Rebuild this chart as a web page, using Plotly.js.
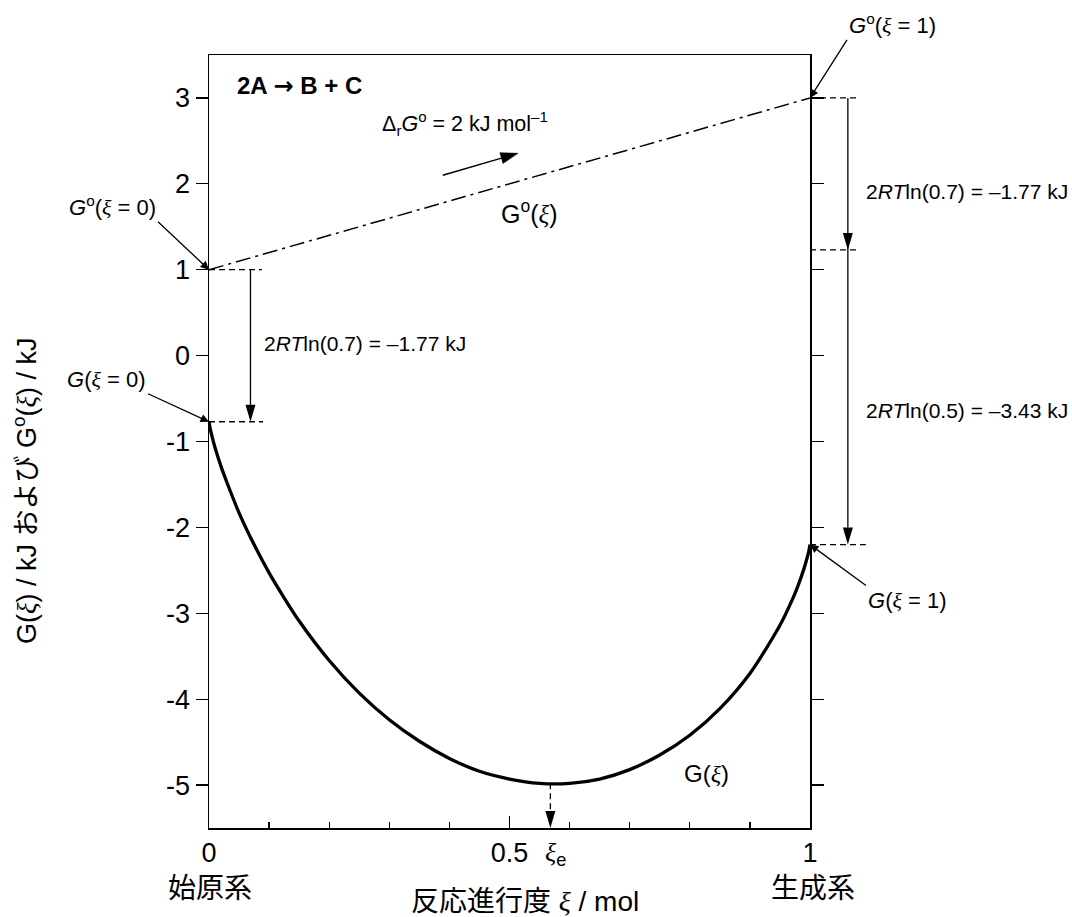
<!DOCTYPE html>
<html>
<head>
<meta charset="utf-8">
<script src="https://cdn.plot.ly/plotly-3.0.1.min.js"></script>
<style>
  html, body { margin: 0; padding: 0; background: #ffffff; }
  #chart { width: 1072px; height: 917px; }
</style>
</head>
<body>
<div id="chart"></div>
<script>
// Extent of reaction ξ / mol
const xi = [0, 0.002, 0.005, 0.01, 0.02, 0.03, 0.05, 0.075, 0.1, 0.125, 0.15, 0.2, 0.25,
            0.3, 0.35, 0.4, 0.45, 0.5, 0.55, 0.6, 0.65, 0.7, 0.75, 0.8, 0.85, 0.9, 0.95,
            0.97, 0.98, 0.99, 0.995, 0.998, 1];
// Gibbs energy of the mixture G(ξ) / kJ
const gibbs = [-0.77, -0.85, -0.94, -1.07, -1.29, -1.48, -1.83, -2.20, -2.53, -2.82, -3.09, -3.55, -3.93,
               -4.24, -4.49, -4.69, -4.84, -4.93, -4.98, -4.98, -4.93, -4.82, -4.65, -4.42, -4.11, -3.70, -3.14,
               -2.85, -2.68, -2.48, -2.36, -2.28, -2.2];
// Standard Gibbs energy G°(ξ), a straight line between the pure states
const xiStd = [0, 1];
const gibbsStd = [1, 3];
// 2RT ln x terms (kJ)
const mixStart = -1.77;   // 2RT ln(0.7)
const mixEnd = -3.43;     // 2RT ln(0.5)
// Equilibrium extent
const xiEq = 0.568;
const gibbsEq = -4.98;
// Δr G° arrow (tail → head)
const dgArrowX = [0.389, 0.514];
const dgArrowY = [2.10, 2.355];
// Tick labels
const yTicks = [-5, -4, -3, -2, -1, 0, 1, 2, 3];
const yTickText = ['-5', '-4', '-3', '-2', '-1', '0', '1', '2', '3'];
const xTicks = [0, 0.5, 1];
const xTickText = ['0', '0.5', '1'];

const W = 1072, H = 917;
const M = { l: 209, r: 262, t: 55, b: 89 };
const Y_RANGE = [-5.5, 3.5];
const FONT = 'Liberation Sans, Arial, sans-serif';
const CJK = 'Liberation Sans, Noto Sans CJK JP, sans-serif';
const XI = '<i><span style="font-family:Liberation Serif">ξ</span></i>';

const gStart = gibbsStd[0];
const gEndStd = gibbsStd[1];
const gAt0 = gStart + mixStart;          // G(ξ = 0)
const gMid1 = gEndStd + mixStart;        // after first ln term at ξ = 1
const gAt1 = gMid1 + mixEnd;             // G(ξ = 1)

// pixel scale of the axes, for arrow heads
const pxPerX = (W - M.l - M.r);
const pxPerY = (H - M.t - M.b) / (Y_RANGE[1] - Y_RANGE[0]);
const HEAD_LEN = 17, HEAD_W = 10;
const headLen = HEAD_LEN / pxPerY;

function headDown(xp, yTip) {
  const hw = HEAD_W / 2 / pxPerX;
  return {
    type: 'path', xref: 'paper', yref: 'y', layer: 'above',
    path: `M${xp},${yTip} L${xp - hw},${yTip + headLen} L${xp + hw},${yTip + headLen} Z`,
    fillcolor: 'black', line: { width: 0 }
  };
}
function seg(x0, y0, x1, y1, dash, width) {
  return {
    type: 'line', xref: 'paper', yref: 'y', layer: 'above',
    x0: x0, y0: y0, x1: x1, y1: y1,
    line: { color: 'black', width: width || 1.3, dash: dash || 'solid' }
  };
}
const DASH = '6px,4px';

const leftX = 0.069, rightX = 1.063;

const shapes = [
  // left: G°(0) → G(0)
  seg(0, gStart, 0.088, gStart, DASH),
  seg(0, gAt0, 0.09, gAt0, DASH),
  seg(leftX, gStart, leftX, gAt0 + headLen),
  headDown(leftX, gAt0),
  // right: G°(1) → G(1)
  seg(1, gEndStd, 1.083, gEndStd, DASH),
  seg(1, gMid1, 1.080, gMid1, DASH),
  seg(1, gAt1, 1.093, gAt1, DASH),
  seg(rightX, gEndStd, rightX, gAt1 + headLen),
  headDown(rightX, gMid1),
  headDown(rightX, gAt1),
  // equilibrium extent
  seg(xiEq, gibbsEq, xiEq, Y_RANGE[0] + headLen, DASH),
  headDown(xiEq, Y_RANGE[0])
];

const traces = [
  {
    x: xiStd, y: gibbsStd, mode: 'lines', hoverinfo: 'skip',
    line: { color: 'black', width: 1.5, dash: '15px,5px,3px,5px' }
  },
  {
    x: xi, y: gibbs, mode: 'lines', hoverinfo: 'skip',
    line: { color: 'black', width: 3.3, shape: 'spline', smoothing: 0.8 }
  },
  {
    x: dgArrowX, y: dgArrowY, mode: 'lines+markers', hoverinfo: 'skip',
    line: { color: 'black', width: 1.5 },
    marker: { symbol: ['circle', 'arrow'], size: [0, 18], color: 'black', opacity: 1,
              angleref: 'previous', line: { width: 0.6, color: 'black' } }
  }
];

function txt(text, x, y, size, opts) {
  return Object.assign({
    text: text, x: x, y: y, xref: 'x', yref: 'y', showarrow: false,
    xanchor: 'center', yanchor: 'middle',
    font: { family: FONT, size: size, color: 'black' }
  }, opts || {});
}
function pointer(text, x, y, ax, ay, xanchor, yanchor) {
  return {
    text: text, x: x, y: y, xref: 'x', yref: 'y', ax: ax, ay: ay,
    showarrow: true, arrowhead: 2, arrowsize: 1.3, arrowwidth: 1.3, arrowcolor: 'black',
    standoff: 0, xanchor: xanchor, yanchor: yanchor,
    font: { family: FONT, size: 22, color: 'black' }
  };
}
const cjkFont = (size) => ({ family: CJK, size: size, color: 'black' });

const annotations = [
  txt('<b>2A <span style="font-family:DejaVu Sans">→</span> B + C</b>', 0.043, 3.14, 24, { xanchor: 'left' }),
  txt(`Δ<sub>r</sub><i>G</i><sup>o</sup> = 2 kJ mol<sup>–1</sup>`, 0.2845, 2.70, 21.5, { xanchor: 'left' }),
  txt(`G<sup>o</sup>(${XI})`, 0.534, 1.67, 25),
  txt(`G(${XI})`, 0.827, -4.86, 24),
  txt(`2<i>RT</i>ln(0.7) = –1.77 kJ`, 0.088, 0.14, 21, { xanchor: 'left' }),
  txt(`2<i>RT</i>ln(0.7) = –1.77 kJ`, 1.09, 1.905, 21, { xanchor: 'left', xref: 'paper' }),
  txt(`2<i>RT</i>ln(0.5) = –3.43 kJ`, 1.09, -0.64, 21, { xanchor: 'left', xref: 'paper' }),
  pointer(`<i>G</i><sup>o</sup>(${XI} = 0)`, 0, gStart, -51, -48, 'right', 'bottom'),
  pointer(`<i>G</i>(${XI} = 0)`, 0, gAt0, -61, -28, 'right', 'bottom'),
  pointer(`<i>G</i><sup>o</sup>(${XI} = 1)`, 1, gEndStd, 37, -58, 'left', 'bottom'),
  pointer(`<i>G</i>(${XI} = 1)`, 1, gAt1, 56, 41, 'left', 'top'),
  // ξe under the axis
  txt(`${XI}<sub>e</sub>`, 0.577, -0.033, 26, { xref: 'paper', yref: 'paper' }),
  // end-state labels and axis titles
  txt('始原系', 0.002, -0.078, 28, { xref: 'paper', yref: 'paper', font: cjkFont(28) }),
  txt('生成系', 1.005, -0.078, 28, { xref: 'paper', yref: 'paper', font: cjkFont(28) }),
  txt(`反応進行度 ${XI} / mol`, 0.526, -0.0955, 28, { xref: 'paper', yref: 'paper', font: cjkFont(28) }),
  txt(`G(${XI}) / kJ および G<sup>o</sup>(${XI}) / kJ`, -0.306, 0.436, 27,
      { xref: 'paper', yref: 'paper', textangle: -90, font: cjkFont(27) })
];

const layout = {
  width: W, height: H, margin: M,
  paper_bgcolor: 'white', plot_bgcolor: 'white',
  showlegend: false,
  xaxis: {
    range: [0, 1], showgrid: false, zeroline: false,
    showline: true, linecolor: 'black', linewidth: 1.5, mirror: true,
    ticks: 'inside', ticklen: 12, tickwidth: 1.3, tickcolor: 'black',
    tickvals: xTicks, ticktext: xTickText, ticklabelstandoff: 0,
    tickfont: { family: FONT, size: 27, color: 'black' },
    minor: { dtick: 0.1, tick0: 0, ticks: 'inside', ticklen: 6, tickwidth: 1.3, tickcolor: 'black', showgrid: false }
  },
  yaxis: {
    range: Y_RANGE, showgrid: false, zeroline: false,
    showline: true, linecolor: 'black', linewidth: 1.5, mirror: 'ticks',
    ticks: 'outside', ticklen: 12, tickwidth: 1.3, tickcolor: 'black',
    tickvals: yTicks, ticktext: yTickText,
    tickfont: { family: FONT, size: 27, color: 'black' }
  },
  shapes: shapes,
  annotations: annotations
};

Plotly.newPlot('chart', traces, layout, { staticPlot: true, displayModeBar: false });
</script>
</body>
</html>
